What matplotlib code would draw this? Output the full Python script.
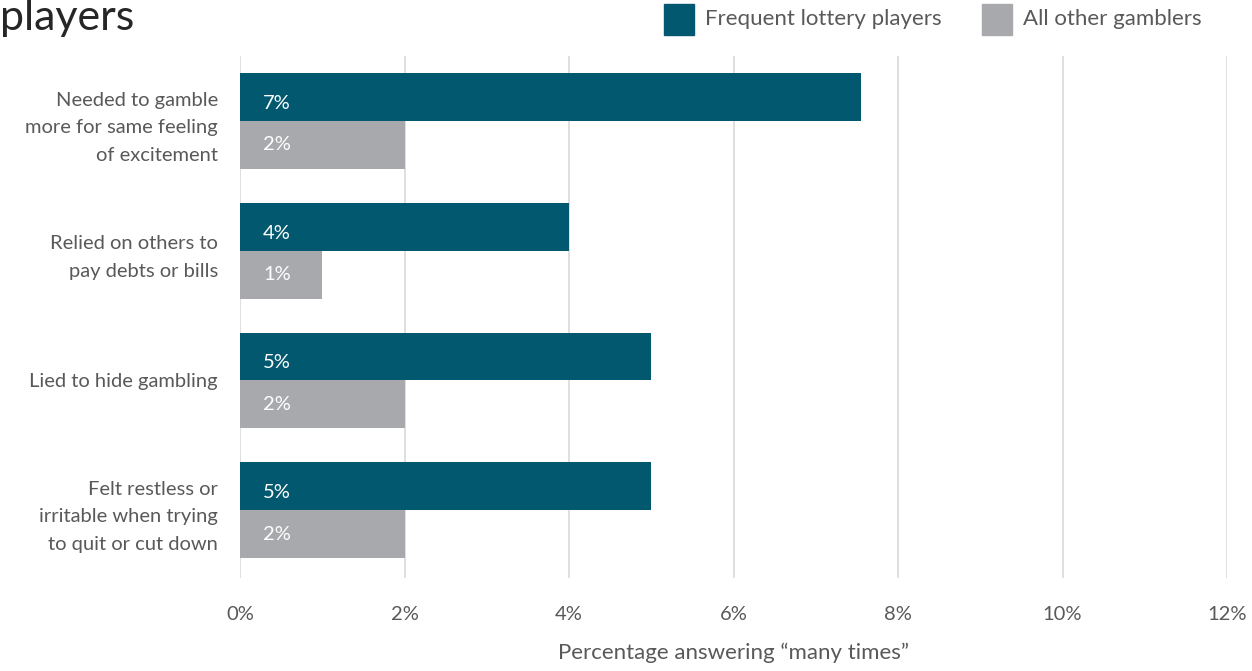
import numpy as np
import matplotlib.pyplot as plt
from matplotlib.patches import Rectangle

plt.rcParams['font.family'] = ['Lato', 'DejaVu Sans']

# problem gambling signs, share answering "many times"
categories = [
    'Needed to gamble\nmore for same feeling\nof excitement',
    'Relied on others to\npay debts or bills',
    'Lied to hide gambling',
    'Felt restless or\nirritable when trying\nto quit or cut down',
]
lottery = [7.55, 4, 5, 5]
others = [2, 1, 2, 2]
xticks = [0, 2, 4, 6, 8, 10, 12]

teal = '#02586F'
grey = '#A7A9AC'
text_col = '#595959'

W, H = 1252, 671
fig = plt.figure(figsize=(W / 100, H / 100), dpi=100)

# axes placed in pixel terms
left, right, top, bottom = 240, 1227, 56, 578
ax = fig.add_axes([left / W, 1 - bottom / H, (right - left) / W, (bottom - top) / H])

y = np.arange(len(categories))
h = 0.369
ax.barh(y - h / 2, lottery, height=h, color=teal, zorder=3)
ax.barh(y + h / 2, others, height=h, color=grey, zorder=3)

for yi, v in zip(y, lottery):
    ax.text(0.28, yi - h / 2 + 0.05, f'{int(v)}%', color='white', fontsize=14.5,
            va='center', ha='left', zorder=4)
for yi, v in zip(y, others):
    ax.text(0.28, yi + h / 2, f'{int(v)}%', color='white', fontsize=14.5,
            va='center', ha='left', zorder=4)

ax.set_xlim(0, 12)
ax.set_ylim(3.523, -0.5)
ax.set_xticks(xticks)
ax.set_xticklabels([f'{t}%' for t in xticks])
ax.set_yticks(y)
ax.set_yticklabels(categories, linespacing=1.75)
ax.tick_params(axis='both', length=0, labelsize=14.5, labelcolor=text_col)
ax.tick_params(axis='x', pad=20)
ax.tick_params(axis='y', pad=16)
ax.xaxis.grid(True, color='#D9D9D9', linewidth=1.2, zorder=0)
for s in ax.spines.values():
    s.set_visible(False)

ax.set_xlabel('Percentage answering \u201cmany times\u201d', fontsize=16,
              color=text_col, labelpad=14)

# title, only its last line shows
fig.text(0, 1 - 30 / H, 'players', fontsize=31, color='#262626', ha='left', va='baseline')

# legend
for x0, col, lab in [(664, teal, 'Frequent lottery players'), (982, grey, 'All other gamblers')]:
    fig.patches.append(Rectangle((x0 / W, 1 - 35 / H), 30 / W, 31 / H,
                                 transform=fig.transFigure, color=col))
    fig.text((x0 + 41) / W, 1 - 19 / H, lab, fontsize=16, color=text_col,
             ha='left', va='center')

fig.savefig('out.png', dpi=100)
